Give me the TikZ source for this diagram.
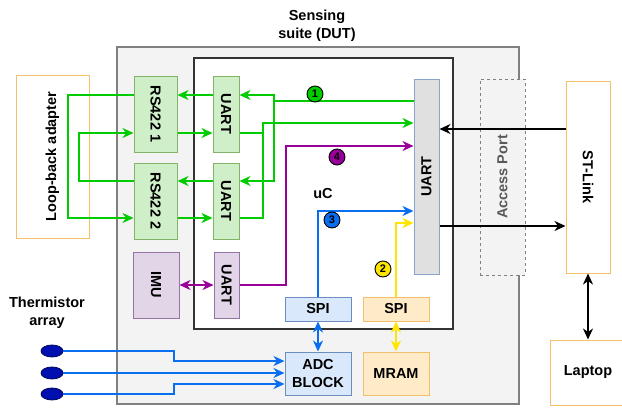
\documentclass[tikz,border=0pt]{standalone}
\usepackage{fontspec}
\setmainfont{Liberation Sans}
\usetikzlibrary{positioning,arrows.meta,shapes.geometric}
\definecolor{suGreen}{HTML}{00CC00}
\definecolor{suPurple}{HTML}{990099}
\definecolor{suBlue}{HTML}{0A6EF0}
\definecolor{suYellow}{HTML}{FFE600}
\definecolor{suGreenFill}{HTML}{CFEFC8}
\definecolor{suGreenLine}{HTML}{82B366}
\definecolor{suPurpleFill}{HTML}{E1D5E7}
\definecolor{suPurpleLine}{HTML}{9673A6}
\definecolor{suBlueFill}{HTML}{DAE8FC}
\definecolor{suBlueLine}{HTML}{6C8EBF}
\definecolor{suOrangeFill}{HTML}{FFEBC8}
\definecolor{suOrangeLine}{HTML}{F2C06C}
\definecolor{suGrayFill}{HTML}{E0E0E0}
\definecolor{suDutFill}{HTML}{F3F3F3}
\definecolor{suThermo}{HTML}{0010B0}
\newcommand{\suFont}{\fontsize{14.5}{18}\selectfont\bfseries}
\tikzset{
    suBoxBase/.style={
        rectangle,
        draw,
        line width=1pt,
        align=center,
        inner sep=2pt,
        font=\suFont
    },
    % Semantic Variants
    rsBox/.style={suBoxBase, fill=suGreenFill, draw=suGreenLine},
    imuBox/.style={suBoxBase, fill=suPurpleFill, draw=suPurpleLine},
    adcBox/.style={suBoxBase, fill=suBlueFill, draw=suBlueLine},
    memBox/.style={suBoxBase, fill=suOrangeFill, draw=suOrangeLine},
    hostBox/.style={suBoxBase, fill=white, draw=suOrangeLine},
    coreBox/.style={suBoxBase, fill=suGrayFill, draw=suBlueLine!80},
    % Frames
    dutFrame/.style={rectangle, draw=black!50, line width=1.2pt, fill=suDutFill},
    mcuFrame/.style={rectangle, draw=black!80, line width=1.2pt, fill=white},
    portBox/.style={suBoxBase, fill=suDutFill, draw=black!50, dashed, text=black!65}
}
\begin{document}
\begin{tikzpicture}[x=1pt, y=-1pt,
    >={Stealth[length=11pt, width=10pt, inset=3.5pt]},
    wire/.style={line width=2pt, draw=#1},
    arr/.style={->, line width=2pt, draw=#1},
    arrBoth/.style={<->, line width=2pt, draw=#1},
    num/.style={circle, draw=black, line width=0.9pt, fill=#1, minimum size=16pt, inner sep=0pt, font=\fontsize{11}{11}\selectfont\bfseries},
    thermo/.style={ellipse, draw=suThermo!50!black, line width=0.8pt, fill=suThermo, minimum width=22pt, minimum height=12pt}
]
\useasboundingbox (0,0) rectangle (622,408);

% frames
\node[dutFrame, minimum width=402pt, minimum height=357pt] (dut) at (318,225.5) {};
\node[font=\suFont, align=center] (title) at (317,26) {Sensing\\suite (DUT)};
\node[mcuFrame, minimum width=259pt, minimum height=271pt] (mcu) at (323.5,193.5) {};
\node[font=\suFont] (mcuName) at (323,194) {uC};
\node[portBox, minimum width=45pt, minimum height=196pt] (port) at (502.5,177) {\rotatebox{90}{Access Port}};

% outside
\node[hostBox, minimum width=73pt, minimum height=163pt] (loop) at (52.5,156.5) {\rotatebox{90}{Loop-back adapter}};
\node[hostBox, minimum width=44pt, minimum height=192pt] (stlink) at (588,177) {\rotatebox{-90}{ST-Link}};
\node[hostBox, minimum width=76pt, minimum height=65pt] (laptop) at (588,372.5) {Laptop};
\node[font=\suFont, align=center] (thermoName) at (47,313) {Thermistor\\array};
\node[thermo] (th1) at (52,351) {};
\node[thermo] (th2) at (52,373) {};
\node[thermo] (th3) at (52,394) {};

% blocks
\node[rsBox, minimum width=43pt, minimum height=76pt] (rs1) at (155.5,114) {\rotatebox{-90}{RS422 1}};
\node[rsBox, minimum width=43pt, minimum height=76pt, below=10pt of rs1] (rs2) {\rotatebox{-90}{RS422 2}};
\node[rsBox, minimum width=26pt, minimum height=76pt] (uartA) at (226,114) {\rotatebox{-90}{UART}};
\node[rsBox, minimum width=26pt, minimum height=76pt, below=10pt of uartA] (uartB) {\rotatebox{-90}{UART}};
\node[imuBox, minimum width=46pt, minimum height=66pt] (imu) at (156,285) {\rotatebox{-90}{IMU}};
\node[imuBox, minimum width=25pt, minimum height=66pt] (uartImu) at (226.5,285) {\rotatebox{-90}{UART}};
\node[adcBox, minimum width=66pt, minimum height=24pt] (spiA) at (318,309) {SPI};
\node[memBox, minimum width=66pt, minimum height=24pt, right=11pt of spiA] (spiB) {SPI};
\node[adcBox, minimum width=66pt, minimum height=43pt, below=30pt of spiA] (adc) {ADC\\BLOCK};
\node[memBox, minimum width=66pt, minimum height=43pt, right=11pt of adc] (mram) {MRAM};
\node[coreBox, minimum width=25pt, minimum height=195pt] (core) at (426.5,176.5) {\rotatebox{90}{UART}};

% routing levels
\coordinate (y1) at (0,95);
\coordinate (y2) at (0,133);
\coordinate (y3) at (0,181);
\coordinate (y4) at (0,218);
\coordinate (yTx) at (0,101);
\coordinate (yRx) at (0,123);
\coordinate (yImu) at (0,146);
\coordinate (ySpiA) at (0,211);
\coordinate (ySpiB) at (0,223);
\coordinate (yIn) at (0,129);
\coordinate (yOut) at (0,226);
\coordinate (yAdc1) at (0,361);
\coordinate (yAdc3) at (0,384);
\coordinate (xTx) at (274,0);
\coordinate (xRx) at (263,0);
\coordinate (xLoop1) at (68,0);
\coordinate (xLoop2) at (79,0);
\coordinate (xImu) at (286,0);
\coordinate (xTh) at (174,0);

% green loop
\draw[arr=suGreen] (core.west |- yTx) -| (xTx |- y1) -- (uartA.east |- y1);
\draw[arr=suGreen] (xTx |- yTx) |- (uartB.east |- y3);
\draw[arr=suGreen] (uartA.west |- y1) -- (rs1.east |- y1);
\draw[arr=suGreen] (uartB.west |- y3) -- (rs2.east |- y3);
\draw[arr=suGreen] (rs1.west |- y1) -| (xLoop1 |- y4) -- (rs2.west |- y4);
\draw[arr=suGreen] (rs2.west |- y3) -| (xLoop2 |- y2) -- (rs1.west |- y2);
\draw[arr=suGreen] (rs1.east |- y2) -- (uartA.west |- y2);
\draw[arr=suGreen] (rs2.east |- y4) -- (uartB.west |- y4);
\draw[wire=suGreen] (uartA.east |- y2) -- (xRx |- y2);
\draw[arr=suGreen] (uartB.east |- y4) -| (xRx |- yRx) -- (core.west |- yRx);

% imu, spi, adc
\draw[arrBoth=suPurple] (imu.east) -- (uartImu.west);
\draw[arr=suPurple] (uartImu.east) -| (xImu |- yImu) -- (core.west |- yImu);
\draw[arr=suBlue] (spiA.north) |- (core.west |- ySpiA);
\draw[arr=suYellow] (spiB.north) |- (core.west |- ySpiB);
\draw[arrBoth=suBlue] (spiA) -- (adc);
\draw[arrBoth=suYellow] (spiB) -- (mram);
\draw[arr=suBlue] (th1.east) -| (xTh |- yAdc1) -- (adc.west |- yAdc1);
\draw[arr=suBlue] (th2.east) -- (th2.east -| adc.west);
\draw[arr=suBlue] (th3.east) -| (xTh |- yAdc3) -- (adc.west |- yAdc3);

% debug link
\draw[arr=black] (stlink.west |- yIn) -- (core.east |- yIn);
\draw[arr=black] (core.east |- yOut) -- (stlink.west |- yOut);
\draw[arrBoth=black] (stlink) -- (laptop);

% channel numbers
\node[num=suGreen] (n1) at (315,94) {1};
\node[num=suYellow] (n2) at (383,269) {2};
\node[num=suBlue] (n3) at (332,220) {3};
\node[num=suPurple] (n4) at (337,157) {4};
\end{tikzpicture}
\end{document}
